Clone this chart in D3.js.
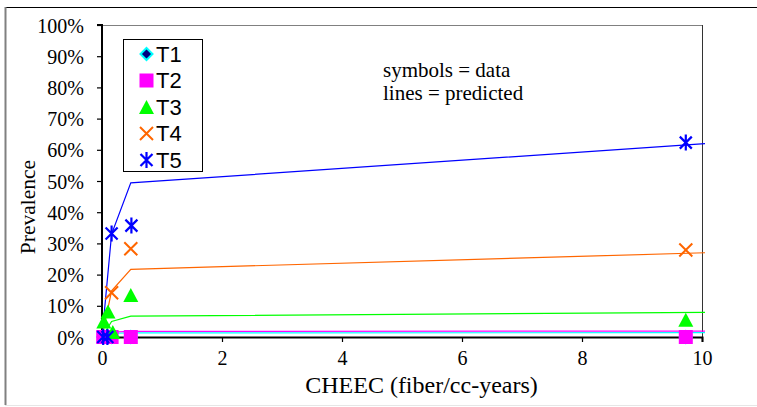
<!DOCTYPE html>
<html>
<head>
<meta charset="utf-8">
<script src="https://cdn.jsdelivr.net/npm/d3@7"></script>
<style>
  html, body { margin: 0; padding: 0; background: #fff; }
  svg { display: block; }
  .tick text { font-family: "Liberation Serif", "Times New Roman", serif; font-size: 20px; fill: #000; }
</style>
</head>
<body>
<svg id="chart" width="757" height="407"></svg>
<script>
// Observed prevalence (symbols) by cumulative exposure, per series
const seriesNames = ["T1", "T2", "T3", "T4", "T5"];

const t1DataX = [0.02, 0.09, 0.16, 0.48, 9.73];
const t1DataY = [0, 0, 0, 0, 0];
const t2DataX = [0.02, 0.16, 0.48, 9.73];
const t2DataY = [0, 0, 0, 0];
const t3DataX = [0.03, 0.10, 0.18, 0.48, 9.73];
const t3DataY = [5.0, 8.2, 1.6, 13.5, 5.5];
const t4DataX = [0.16, 0.48, 9.73];
const t4DataY = [14.2, 28.3, 27.9];
const t5DataX = [0.02, 0.09, 0.16, 0.49, 9.73];
const t5DataY = [0, 0, 33.2, 35.7, 62.3];

// Model predictions (lines)
const predX = [0, 0.16, 0.48, 10.05];
const t1Pred = [0, 1.2, 1.3, 1.4];
const t2Pred = [0, 1.6, 1.8, 1.9];
const t3Pred = [0, 5.0, 6.7, 7.9];
const t4Pred = [0, 14.8, 21.7, 27.0];
const t5Pred = [0, 33.0, 49.4, 62.0];

const xTicks = [0, 2, 4, 6, 8, 10];
const yTicks = [0, 10, 20, 30, 40, 50, 60, 70, 80, 90, 100];

const colors = {
  T1: "#00FFFF", T2: "#FF00FF", T3: "#00FF00", T4: "#FF6600", T5: "#0000FF"
};

const svg = d3.select("#chart");
const plot = { left: 102, right: 702, top: 25, bottom: 337 };

const x = d3.scaleLinear().domain([0, 10]).range([plot.left, plot.right]);
const y = d3.scaleLinear().domain([0, 100]).range([plot.bottom, plot.top]);

// Outer chart frame
svg.append("line").attr("x1", 5).attr("x2", 757).attr("y1", 7.5).attr("y2", 7.5)
  .attr("stroke", "#000").attr("stroke-width", 1);
svg.append("line").attr("x1", 5.5).attr("x2", 5.5).attr("y1", 7).attr("y2", 405)
  .attr("stroke", "#808080").attr("stroke-width", 2);
svg.append("line").attr("x1", 5).attr("x2", 757).attr("y1", 405.5).attr("y2", 405.5)
  .attr("stroke", "#e6e6e6").attr("stroke-width", 1);

// Plot area frame
svg.append("line").attr("x1", plot.left).attr("x2", plot.right).attr("y1", plot.top + 0.5).attr("y2", plot.top + 0.5)
  .attr("stroke", "#808080");
svg.append("line").attr("x1", plot.right + 0.5).attr("x2", plot.right + 0.5).attr("y1", plot.top).attr("y2", plot.bottom)
  .attr("stroke", "#333");

// Prediction lines
const line = d3.line().x(d => x(d[0])).y(d => y(d[1]));
const predSeries = [
  ["T1", t1Pred], ["T2", t2Pred], ["T3", t3Pred], ["T4", t4Pred], ["T5", t5Pred]
];
predSeries.forEach(([name, vals]) => {
  svg.append("path")
    .datum(predX.map((px, i) => [px, vals[i]]))
    .attr("d", line)
    .attr("fill", "none")
    .attr("stroke", colors[name])
    .attr("stroke-width", 1.2);
});

// Axes
const yAxis = d3.axisLeft(y).tickValues(yTicks).tickFormat(d => d + "%").tickSize(5).tickPadding(13);
const xAxis = d3.axisBottom(x).tickValues(xTicks).tickFormat(d3.format("d")).tickSize(5).tickPadding(9);

const gy = svg.append("g").attr("transform", `translate(${plot.left},0)`).call(yAxis);
const gx = svg.append("g").attr("transform", `translate(0,${plot.bottom})`).call(xAxis);
[gx, gy].forEach(g => {
  g.select(".domain").attr("stroke", "#000").attr("stroke-width", 2);
  g.selectAll(".tick line").attr("stroke", "#000").attr("stroke-width", 1.2);
});
gy.select(".domain").attr("d", `M-5,${plot.top}H0V${plot.bottom + 1}`);
gy.selectAll(".tick text").attr("dy", "0.35em");

// Marker drawers
function drawMarker(g, name, cx, cy) {
  const c = colors[name];
  if (name === "T1") {
    g.append("path").attr("d", `M${cx},${cy - 6}L${cx + 6},${cy}L${cx},${cy + 6}L${cx - 6},${cy}Z`)
      .attr("fill", "#000080").attr("stroke", c).attr("stroke-width", 2);
  } else if (name === "T2") {
    g.append("rect").attr("x", cx - 7).attr("y", cy - 7).attr("width", 14).attr("height", 14).attr("fill", c);
  } else if (name === "T3") {
    g.append("path").attr("d", `M${cx},${cy - 7}L${cx + 7.5},${cy + 7}L${cx - 7.5},${cy + 7}Z`).attr("fill", c);
  } else if (name === "T4") {
    g.append("path").attr("d", `M${cx - 6.5},${cy - 6.5}L${cx + 6.5},${cy + 6.5}M${cx + 6.5},${cy - 6.5}L${cx - 6.5},${cy + 6.5}`)
      .attr("stroke", c).attr("stroke-width", 2).attr("fill", "none");
  } else {
    g.append("path").attr("d", `M${cx - 6},${cy - 6}L${cx + 6},${cy + 6}M${cx + 6},${cy - 6}L${cx - 6},${cy + 6}M${cx},${cy - 8}L${cx},${cy + 8}`)
      .attr("stroke", c).attr("stroke-width", 2.2).attr("fill", "none");
  }
}

// Observed data markers
const dataSeries = [
  ["T1", t1DataX, t1DataY], ["T2", t2DataX, t2DataY], ["T3", t3DataX, t3DataY],
  ["T4", t4DataX, t4DataY], ["T5", t5DataX, t5DataY]
];
const gMarks = svg.append("g");
dataSeries.forEach(([name, xs, ys]) => {
  xs.forEach((xv, i) => drawMarker(gMarks, name, x(xv), y(ys[i])));
});

// Legend
const lg = svg.append("g");
lg.append("rect").attr("x", 123.5).attr("y", 39.5).attr("width", 79).attr("height", 132)
  .attr("fill", "#fff").attr("stroke", "#000").attr("stroke-width", 1);
seriesNames.forEach((name, i) => {
  const cy = 54 + i * 26.5;
  drawMarker(lg, name, 146.5, cy);
  lg.append("text").attr("x", 156).attr("y", cy).attr("dy", "0.36em")
    .attr("font-family", "Liberation Sans, Arial, sans-serif").attr("font-size", 22)
    .text(name);
});

// Annotation
const note = svg.append("g").attr("font-family", "Liberation Serif, Times New Roman, serif").attr("font-size", 21);
note.append("text").attr("x", 383).attr("y", 77).text("symbols = data");
note.append("text").attr("x", 383).attr("y", 99.5).text("lines = predicted");

// Axis titles
svg.append("text").attr("x", 421.5).attr("y", 393).attr("text-anchor", "middle")
  .attr("font-family", "Liberation Serif, Times New Roman, serif").attr("font-size", 24)
  .text("CHEEC (fiber/cc-years)");
svg.append("text").attr("transform", "translate(35,207) rotate(-90)").attr("text-anchor", "middle")
  .attr("font-family", "Liberation Serif, Times New Roman, serif").attr("font-size", 21.5)
  .text("Prevalence");
</script>
</body>
</html>
